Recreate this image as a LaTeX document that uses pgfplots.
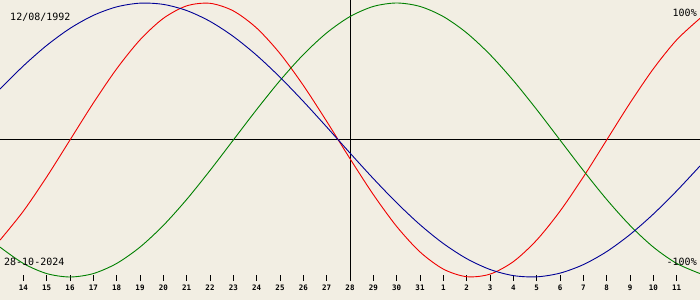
\documentclass[border=0pt]{standalone}
\usepackage{pgfplots}
\pgfplotsset{compat=1.18}
\usepackage{fontspec}
\setmonofont{DejaVu Sans Mono}
\definecolor{bg}{RGB}{242,238,227}
\definecolor{phys}{RGB}{240,0,0}
\definecolor{emot}{RGB}{0,128,0}
\definecolor{intel}{RGB}{0,0,150}
\begin{document}
\begin{tikzpicture}
\begin{axis}[
  scale only axis, width=700pt, height=300pt,
  xmin=0, xmax=30, ymin=-1.1679, ymax=1.0219,
  axis line style={draw=none}, ticks=none,
  axis background/.style={fill=bg},
  clip=true,
]
% horizontal and vertical reference lines
\draw[black, line width=1pt] (axis cs:0,0) -- (axis cs:30,0);
\draw[black, line width=1pt] (axis cs:15,1.0219) -- (axis cs:15,-1.0292);
% tick marks
\pgfplotsinvokeforeach{1,...,29}{
  \draw[black, line width=1pt] (axis cs:#1,-0.9854) -- (axis cs:#1,-1.0292);
}
% Physical (23 days)
\addplot[phys, line width=0.9pt, smooth] coordinates {
(0,-0.7308)(1,-0.5196)(2,-0.2698)(3,0)(4,0.2698)(5,0.5196)(6,0.7308)(7,0.8879)(8,0.9791)(9,0.9977)
(10,0.9423)(11,0.8170)(12,0.6311)(13,0.3984)(14,0.1362)(15,-0.1362)(16,-0.3984)(17,-0.6311)(18,-0.8170)(19,-0.9423)
(20,-0.9977)(21,-0.9791)(22,-0.8879)(23,-0.7308)(24,-0.5196)(25,-0.2698)(26,0)(27,0.2698)(28,0.5196)(29,0.7308)(30,0.8879)
};
% Emotional (28 days)
\addplot[emot, line width=0.9pt, smooth] coordinates {
(0,-0.7818)(1,-0.9010)(2,-0.9749)(3,-1)(4,-0.9749)(5,-0.9010)(6,-0.7818)(7,-0.6235)(8,-0.4339)(9,-0.2225)
(10,0)(11,0.2225)(12,0.4339)(13,0.6235)(14,0.7818)(15,0.9010)(16,0.9749)(17,1)(18,0.9749)(19,0.9010)
(20,0.7818)(21,0.6235)(22,0.4339)(23,0.2225)(24,0)(25,-0.2225)(26,-0.4339)(27,-0.6235)(28,-0.7818)(29,-0.9010)(30,-0.9749)
};
% Intellectual (33 days)
\addplot[intel, line width=0.9pt, smooth] coordinates {
(0,0.3717)(1,0.5406)(2,0.6901)(3,0.8146)(4,0.9096)(5,0.9718)(6,0.9989)(7,0.9898)(8,0.9450)(9,0.8660)
(10,0.7557)(11,0.6182)(12,0.4582)(13,0.2817)(14,0.0951)(15,-0.0951)(16,-0.2817)(17,-0.4582)(18,-0.6182)(19,-0.7557)
(20,-0.8660)(21,-0.9450)(22,-0.9898)(23,-0.9989)(24,-0.9718)(25,-0.9096)(26,-0.8146)(27,-0.6901)(28,-0.5406)(29,-0.3717)(30,-0.1893)
};
% texts
\node[anchor=west, inner sep=0pt, font=\fontsize{10}{12}\selectfont\ttfamily] at (axis cs:0.43,0.8978) {12/08/1992};
\node[anchor=east, inner sep=0pt, font=\fontsize{10}{12}\selectfont\ttfamily] at (axis cs:29.87,0.927) {100\%};
\node[anchor=west, inner sep=0pt, font=\fontsize{10}{12}\selectfont\ttfamily] at (axis cs:0.17,-0.8905) {28-10-2024};
\node[anchor=east, inner sep=0pt, font=\fontsize{10}{12}\selectfont\ttfamily] at (axis cs:29.87,-0.8905) {-100\%};
% tick labels
\pgfplotsforeachungrouped \x/\l in {1/14,2/15,3/16,4/17,5/18,6/19,7/20,8/21,9/22,10/23,11/24,12/25,13/26,14/27,15/28,16/29,17/30,18/31,19/1,20/2,21/3,22/4,23/5,24/6,25/7,26/8,27/9,28/10,29/11} {
  \edef\temp{\noexpand\node[inner sep=0pt, font=\noexpand\fontsize{7.5}{9}\noexpand\selectfont\noexpand\ttfamily\noexpand\bfseries] at (axis cs:\x,-1.0803) {\l};}
  \temp
}
\end{axis}
\end{tikzpicture}
\end{document}
